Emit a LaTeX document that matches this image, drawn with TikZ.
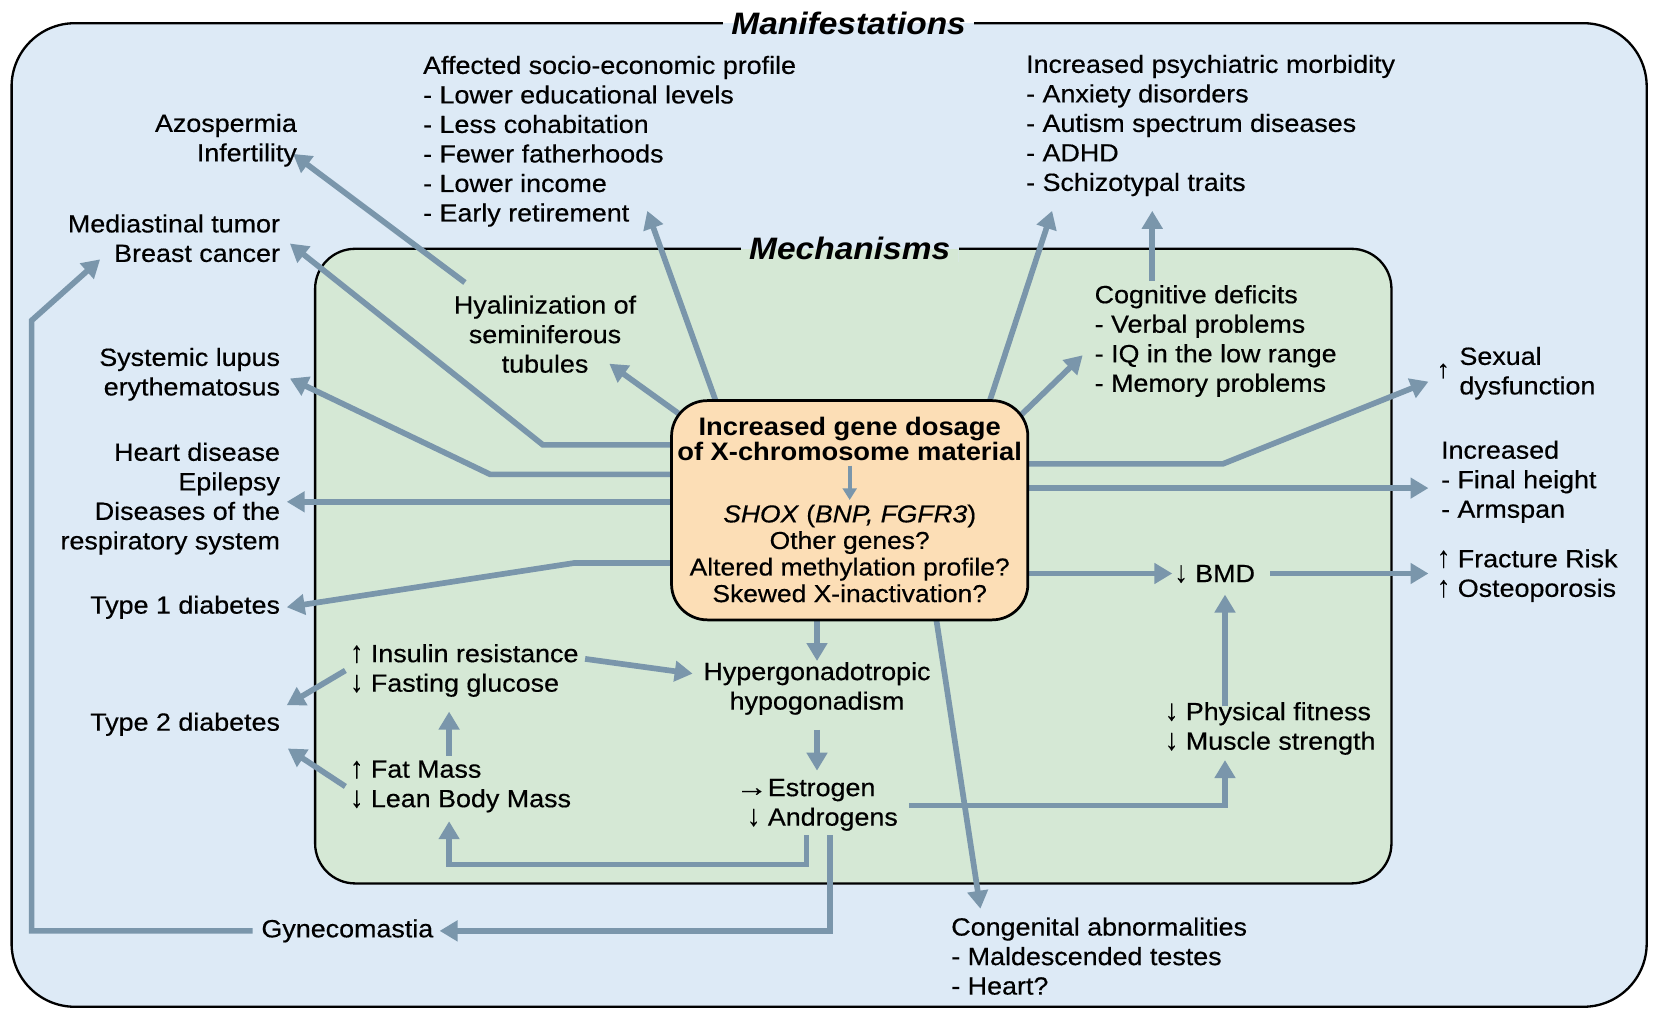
\documentclass[tikz,border=0pt]{standalone}
\usepackage{fontspec}
\usepackage{graphicx}
\setmainfont{Liberation Sans}[FakeStretch=1.08]
\newfontfamily\medfont{Liberation Sans}[FakeStretch=1.08,FakeBold=0.45]
\usetikzlibrary{arrows.meta}
\definecolor{outerbg}{RGB}{221,234,246}
\definecolor{innerbg}{RGB}{213,232,213}
\definecolor{corebg}{RGB}{252,222,182}
\definecolor{arrowc}{RGB}{122,150,171}
\newcommand{\ua}{\smash{\scalebox{1}[1.2]{↑}}}
\newcommand{\da}{\smash{\scalebox{1}[1.2]{↓}}}
\newcommand{\ra}{\smash{\scalebox{1.2}[1.1]{→}}}
\pgfdeclarelayer{back}
\pgfdeclarelayer{links}
\pgfsetlayers{back,links,main}
\tikzset{
  txt/.style={font=\medfont\fontsize{11.8pt}{14pt}\selectfont, inner sep=2pt},
  arr/.style={draw=arrowc, line width=2.7pt, -{Triangle[length=8.5pt,width=9.5pt]}},
  smallarr/.style={draw=arrowc, line width=2pt, -{Triangle[length=5.5pt,width=6.5pt]}},
  frame/.style={draw=black, line width=1.1pt, inner sep=0pt},
  title/.style={font=\bfseries\itshape\fontsize{14.7pt}{15pt}\selectfont, inner xsep=4pt, inner ysep=1pt},
  split/.style 2 args={fill=#1, path picture={\fill[#2] (path picture bounding box.west) rectangle (path picture bounding box.south east);}},
}
\begin{document}
\begin{tikzpicture}[x=0.5pt,y=-0.5pt]
\useasboundingbox (0,0) rectangle (1568,958);
\begin{pgfonlayer}{back}
\node[frame, fill=outerbg, rounded corners=30pt, minimum width=775.5pt, minimum height=466.5pt] (outer) at (786.5,488.5) {};
\node[frame, fill=innerbg, rounded corners=19pt, minimum width=510.5pt, minimum height=301pt] (inner) at (809.4,537) {};
\end{pgfonlayer}
\node[title, split={white}{outerbg}] (mtitle) at (805,22) {Manifestations};
\node[title, split={outerbg}{innerbg}] (mechtitle) at (806,236) {Mechanisms};

% core box
\node[draw=black, line width=1.3pt, fill=corebg, rounded corners=17pt, minimum width=169pt, minimum height=104pt, inner sep=0pt] (c) at (806,484) {};
\node[font=\bfseries\fontsize{12pt}{11.9pt}\selectfont, align=center, inner sep=2pt] (cT) at (806,416.6) {Increased gene dosage\\of X-chromosome material};
\node[font=\medfont\fontsize{11.6pt}{12.6pt}\selectfont, align=center, inner sep=2pt] (cB) at (806,525) {\textit{SHOX} (\textit{BNP, FGFR3})\\Other genes?\\Altered methylation profile?\\Skewed X-inactivation?};
\draw[smallarr] (cT.south) -- (cB.north);

% manifestation texts
\node[txt, anchor=east, align=right] (azo) at (286,133) {Azospermia\\Infertility};
\node[txt, anchor=east, align=right] (med) at (270,226) {Mediastinal tumor\\Breast cancer};
\node[txt, anchor=east, align=right] (sle) at (270,355) {Systemic lupus\\erythematosus};
\node[txt, anchor=east, align=right] (heart) at (270,473) {Heart disease\\Epilepsy\\Diseases of the\\respiratory system};
\node[txt, anchor=east] (t1d) at (270,576) {Type 1 diabetes};
\node[txt, anchor=east] (t2d) at (270,687) {Type 2 diabetes};
\node[txt] (gyn) at (329.5,883) {Gynecomastia};
\node[txt, anchor=west, align=left] (socio) at (397,134) {Affected socio-economic profile\\- Lower educational levels\\- Less cohabitation\\- Fewer fatherhoods\\- Lower income\\- Early retirement};
\node[txt, anchor=west, align=left] (psych) at (969,119) {Increased psychiatric morbidity\\- Anxiety disorders\\- Autism spectrum diseases\\- ADHD\\- Schizotypal traits};
\node[txt, anchor=west, align=left] (sex) at (1380,354) {Sexual\\dysfunction};
\node[txt] (sexup) at (1369,352) {↑};
\node[txt, anchor=west, align=left] (incr) at (1362.6,457) {Increased\\- Final height\\- Armspan};
\node[txt, anchor=west, align=left] (frac) at (1358.6,546) {\ua{} Fracture Risk\\\ua{} Osteoporosis};
\node[txt, anchor=west, align=left] (cong) at (898,907) {Congenital abnormalities\\- Maldescended testes\\- Heart?};

% mechanism texts
\node[txt, align=center] (hyal) at (517,317) {Hyalinization of\\seminiferous\\tubules};
\node[txt, anchor=west, align=left] (cog) at (1034,323.5) {Cognitive deficits\\- Verbal problems\\- IQ in the low range\\- Memory problems};
\node[txt, anchor=west, align=left] (ins) at (327.6,636) {\ua{} Insulin resistance\\\da{} Fasting glucose};
\node[txt, anchor=west, align=left] (fat) at (327.6,746) {\ua{} Fat Mass\\\da{} Lean Body Mass};
\node[txt, align=center] (hyp) at (775,653) {Hypergonadotropic\\hypogonadism};
\node[txt, anchor=west, align=left] (est) at (698,763.5) {\makebox[1.1em][r]{\ra}Estrogen\\\makebox[1.1em][r]{\da\ }Androgens};
\node[txt, anchor=west] (bmd) at (1109.6,544) {\da{} BMD};
\node[txt, anchor=west, align=left] (phys) at (1100.6,691) {\da{} Physical fitness\\\da{} Muscle strength};

% bend points
\coordinate (k19) at (515,422);
\coordinate (k20) at (465,450);
\coordinate (k22) at (545,534);
\coordinate (k7) at (1160,440);
\coordinate (k12) at (1162,764);
\coordinate (k16a) at (765,820);
\coordinate (k16b) at (426,820);
\coordinate (k17) at (787,883);
\coordinate (k18a) at (30,883);
\coordinate (k18b) at (30,304);
% tips
\coordinate (tAzo) at (278,146);
\coordinate (tBreast) at (275,231);
\coordinate (tLupus) at (275,359);
\coordinate (tHeart) at (272,476);
\coordinate (tT1) at (272,576);
\coordinate (tTub) at (578,345);
\coordinate (tSocio) at (614,200);
\coordinate (tPsy) at (998,200);
\coordinate (tPsyB) at (1093,200);
\coordinate (tCog) at (1027,337);
\coordinate (tSex) at (1355,362);
\coordinate (tIncr) at (1355,463);
\coordinate (tBmd) at (1112,544);
\coordinate (tFrac) at (1355,544);
\coordinate (tBmdUp) at (1162,564);
\coordinate (tMus) at (1162,721);
\coordinate (tHyp) at (775,627);
\coordinate (tHypL) at (657,639);
\coordinate (tEst) at (775,731);
\coordinate (tCong) at (930,862);
\coordinate (tLean) at (426,779);
\coordinate (tGyn) at (417,883);
\coordinate (tMed) at (95,246);
\coordinate (tT2a) at (272,669);
\coordinate (tT2b) at (273,710);
\coordinate (tFast) at (426,675);
% starts
\coordinate (sTub) at (660,404);
\coordinate (sSoc) at (681,386);
\coordinate (sPsy) at (937,386);
\coordinate (sCog) at (962,400);
\coordinate (sCong) at (887,580);
\coordinate (sAzo) at (441,268);
\coordinate (sIns) at (555,625);

\begin{pgfonlayer}{links}
\draw[arr] (sAzo) -- (tAzo);
\draw[arr] (sTub) -- (tTub);
\draw[arr] (sSoc) -- (tSocio);
\draw[arr] (sPsy) -- (tPsy);
\draw[arr] (cog.north -| tPsyB) -- (tPsyB);
\draw[arr] (sCog) -- (tCog);
\draw[arr] (c.east |- k7) -- (k7) -- (tSex);
\draw[arr] (c.east |- tIncr) -- (tIncr);
\draw[arr] (c.east |- tBmd) -- (tBmd);
\draw[arr, shorten <=5pt] (bmd.east |- tFrac) -- (tFrac);
\draw[arr, shorten <=-4pt] (phys.north -| tBmdUp) -- (tBmdUp);
\draw[arr, shorten <=3pt] (est.east |- k12) -- (k12) -- (tMus);
\draw[arr] (c.south -| tHyp) -- (tHyp);
\draw[arr, shorten <=5pt] (hyp.south -| tEst) -- (tEst);
\draw[arr] (sCong) -- (tCong);
\draw[arr] (est.south -| k16a) -- (k16a) -- (k16b) -- (tLean);
\draw[arr] (est.south -| k17) -- (k17) -- (tGyn);
\draw[arr, shorten <=2pt] (gyn.west) -- (k18a) -- (k18b) -- (tMed);
\draw[arr] (c.west |- k19) -- (k19) -- (tBreast);
\draw[arr] (c.west |- k20) -- (k20) -- (tLupus);
\draw[arr] (c.west |- tHeart) -- (tHeart);
\draw[arr] (c.west |- k22) -- (k22) -- (tT1);
\draw[arr] (sIns) -- (tHypL);
\draw[arr] (ins.west) -- (tT2a);
\draw[arr] (fat.west) -- (tT2b);
\draw[arr] (fat.north -| tFast) -- (tFast);
\end{pgfonlayer}
\end{tikzpicture}
\end{document}
